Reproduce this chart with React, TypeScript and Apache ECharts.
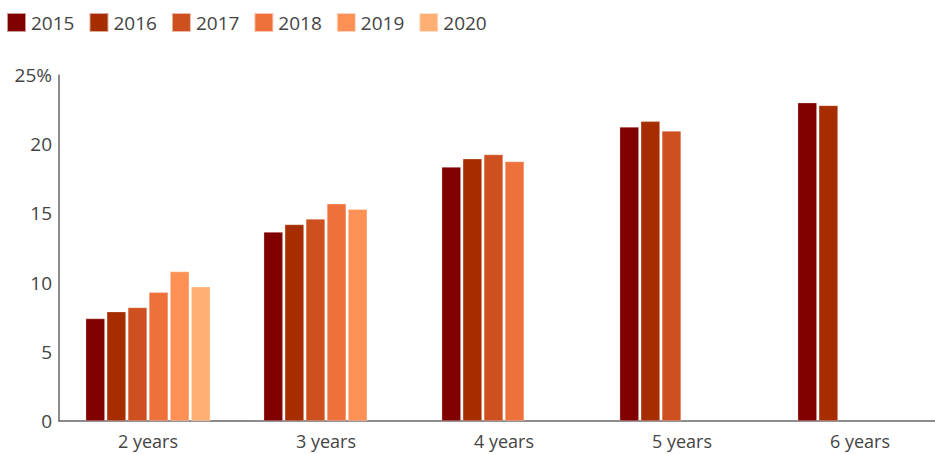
import React, { useEffect, useRef } from "react";
import * as echarts from "echarts";

const categories = ["2 years", "3 years", "4 years", "5 years", "6 years"];
const years = ["2015", "2016", "2017", "2018", "2019", "2020"];
const v2015 = [7.4, 13.65, 18.35, 21.25, 23.0];
const v2016 = [7.9, 14.2, 18.95, 21.65, 22.8];
const v2017 = [8.2, 14.6, 19.25, 20.95, null];
const v2018 = [9.3, 15.7, 18.75, null, null];
const v2019 = [10.8, 15.3, null, null, null];
const v2020 = [9.7, null, null, null, null];
const seriesValues = [v2015, v2016, v2017, v2018, v2019, v2020];
const colors = ["#800000", "#a52d00", "#cd501e", "#ee713b", "#fd9155", "#ffaf73"];
const yTicks = [0, 5, 10, 15, 20, 25];

export default function App() {
  const ref = useRef<HTMLDivElement>(null);
  useEffect(() => {
    if (!ref.current) return;
    const chart = echarts.init(ref.current, null, { renderer: "svg" });
    const font = "Open Sans";
    chart.setOption({
      animation: false,
      color: colors,
      legend: {
        left: 1,
        top: 7,
        itemWidth: 19,
        itemHeight: 19,
        itemGap: 14,
        icon: "rect",
        data: years,
        textStyle: { fontFamily: font, fontSize: 19, color: "#444" },
      },
      grid: { left: 59, top: 75, width: 890, height: 346, containLabel: false, outerBoundsMode: "none" },
      xAxis: {
        type: "category",
        data: categories,
        axisLine: { lineStyle: { color: "#666", width: 1.5 } },
        axisTick: { show: false },
        axisLabel: { fontFamily: font, fontSize: 18, color: "#444", margin: 11 },
      },
      yAxis: {
        type: "value",
        min: 0,
        max: 25,
        interval: 5,
        splitLine: { show: false },
        axisLine: { show: true, lineStyle: { color: "#666", width: 1.5 } },
        axisTick: { show: false },
        axisLabel: {
          fontFamily: font,
          fontSize: 19,
          color: "#444",
          margin: 7,
          formatter: (v: number) => (v === yTicks[yTicks.length - 1] ? v + "%" : String(v)),
        },
      },
      series: years.map((y, i) => ({
        name: y,
        type: "bar",
        data: seriesValues[i],
        barGap: "10%",
        barCategoryGap: "30%",
        itemStyle: { color: colors[i], borderColor: "rgba(255,255,255,0.6)", borderWidth: 0.5 },
      })),
    });
    return () => chart.dispose();
  }, []);
  return (
    <div
      ref={ref}
      style={{ position: "fixed", left: 0, top: 0, width: 935, height: 454, background: "#fff" }}
    />
  );
}
